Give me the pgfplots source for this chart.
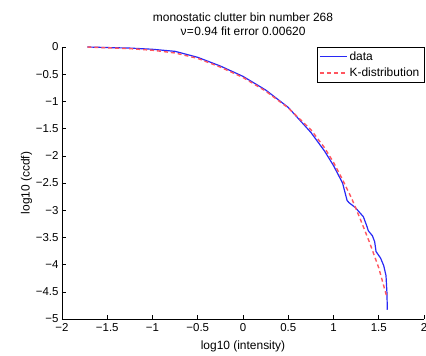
\documentclass[border=0pt]{standalone}
\usepackage{pgfplots}
\pgfplotsset{compat=1.18}
\usepackage{fontspec}
\setmainfont{Liberation Sans}
\definecolor{dblue}{RGB}{40,40,245}
\definecolor{kred}{RGB}{255,85,95}
\begin{document}
\begin{tikzpicture}
\begin{axis}[
  scale only axis,
  width=362bp, height=272bp,
  xmin=-2, xmax=2, ymin=-5, ymax=0,
  axis lines*=left,
  axis line style={black, line width=0.7pt},
  tick style={black, line width=0.6pt},
  major tick length=4pt,
  xtick={-2,-1.5,-1,-0.5,0,0.5,1,1.5,2},
  xticklabels={−2,−1.5,−1,−0.5,0,0.5,1,1.5,2},
  ytick={-5,-4.5,-4,-3.5,-3,-2.5,-2,-1.5,-1,-0.5,0},
  yticklabels={−5,−4.5,−4,−3.5,−3,−2.5,−2,−1.5,−1,−0.5,0},
  ticklabel style={font=\fontsize{11.5}{13}\selectfont},
  xticklabel style={yshift=-1pt},
  xlabel={log10 (intensity)},
  ylabel={log10 (ccdf)},
  label style={font=\fontsize{12}{14}\selectfont},
  xlabel style={yshift=-2pt},
  ylabel style={yshift=-3pt},
  title={monostatic clutter bin number 268\\ν\kern0.5pt=\kern0.5pt0.94 fit error 0.00620},
  title style={align=center, font=\fontsize{12}{14.5}\selectfont, yshift=1.5pt},
  legend style={at={(1,1)}, anchor=north east, draw=black,
    font=\fontsize{12}{14}\selectfont, inner sep=2.5pt, row sep=2pt},
  legend cell align=left,
  legend image code/.code={\draw[#1, line width=1.3pt] (0cm,0cm) -- (0.95cm,0cm);},
]
\addplot[dblue, line width=1.2pt] coordinates {
(-1.72,0) (-1.5,-0.01) (-1.25,-0.02) (-1.0,-0.042) (-0.75,-0.08) (-0.5,-0.19)
(-0.25,-0.35) (0,-0.54) (0.25,-0.79) (0.5,-1.11) (0.75,-1.57) (0.9,-1.91)
(1.0,-2.18) (1.1,-2.5) (1.15,-2.82) (1.17,-2.86) (1.24,-2.95) (1.33,-3.12)
(1.37,-3.30) (1.385,-3.38) (1.43,-3.47) (1.455,-3.58) (1.47,-3.76) (1.52,-3.88)
(1.555,-4.02) (1.58,-4.2) (1.59,-4.5) (1.595,-4.83)
};
\addlegendentry{data}
\addplot[kred, line width=1.4pt, dash pattern=on 4pt off 3pt] coordinates {
(-1.72,0) (-1.5,-0.015) (-1.25,-0.03) (-1.0,-0.06) (-0.75,-0.11) (-0.5,-0.21)
(-0.25,-0.37) (0,-0.56) (0.25,-0.81) (0.5,-1.12) (0.75,-1.52) (0.9,-1.85)
(1.0,-2.12) (1.1,-2.44) (1.2,-2.78) (1.3,-3.18) (1.4,-3.6) (1.5,-4.06) (1.59,-4.6)
};
\addlegendentry{K-distribution}
\end{axis}
\pgfresetboundingbox
\path[use as bounding box] ([xshift=-62bp,yshift=-37bp]current axis.south west) rectangle ([xshift=2bp,yshift=47bp]current axis.north east);
\end{tikzpicture}
\end{document}
